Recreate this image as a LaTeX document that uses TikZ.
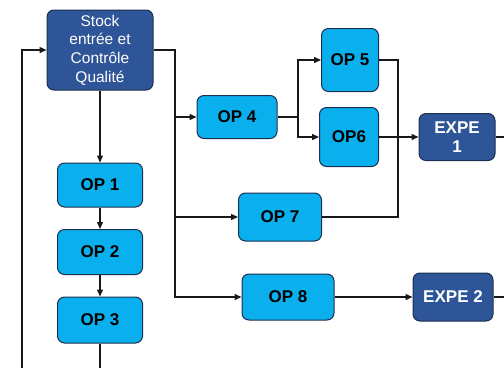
\documentclass[tikz,border=0pt]{standalone}
\usepackage{fontspec}
\setmainfont{Liberation Sans}
\usetikzlibrary{arrows.meta}
\definecolor{opblue}{HTML}{0AB0EE}
\definecolor{darkblue}{HTML}{2E5597}
\definecolor{edgeblue}{HTML}{1B2F4F}
\tikzset{
  op/.style={draw=edgeblue, line width=1pt, fill=opblue, rounded corners=7pt,
    inner sep=0pt, font=\bfseries\fontsize{17}{19}\selectfont, align=center},
  expe/.style={op, fill=darkblue, text=white},
  stock/.style={op, fill=darkblue, text=white,
    font=\fontsize{15.5}{18.7}\selectfont},
  arr/.style={-{Triangle[length=7pt,width=6pt]}},
  wire/.style={line width=1.4pt, draw=black!90}
}
\begin{document}
\begin{tikzpicture}[x=1pt,y=-1pt]
  \useasboundingbox (0,0) rectangle (504,368);
  % boxes
  \node[stock, minimum width=106pt, minimum height=80pt] (stock) at (100,50)
    {Stock\\entrée et\\Contrôle\\Qualité};
  \node[op, minimum width=85pt, minimum height=44pt] (op1) at (100,185) {OP 1};
  \node[op, minimum width=85pt, minimum height=45pt] (op2) at (100,252) {OP 2};
  \node[op, minimum width=85pt, minimum height=46pt] (op3) at (100,320) {OP 3};
  \node[op, minimum width=80pt, minimum height=43pt] (op4) at (237,117) {OP 4};
  \node[op, minimum width=57pt, minimum height=63pt] (op5) at (350,60) {OP 5};
  \node[op, minimum width=59pt, minimum height=59pt] (op6) at (349,137) {OP6};
  \node[op, minimum width=83pt, minimum height=48pt] (op7) at (280,217) {OP 7};
  \node[op, minimum width=92pt, minimum height=46pt] (op8) at (288,297) {OP 8};
  \node[expe, minimum width=76pt, minimum height=47pt] (expe1) at (457,137) {EXPE\\1};
  \node[expe, minimum width=80pt, minimum height=48pt] (expe2) at (453,297) {EXPE 2};
  % free ends and bends
  \coordinate (back) at (22,368);
  \coordinate (down) at (100,368);
  \coordinate (split) at (175,50);
  \coordinate (trunk) at (175,297);
  \coordinate (fork) at (298,117);
  \coordinate (merge) at (398,217);
  \coordinate (out1) at (504,137);
  \coordinate (out2) at (504,297);
  \begin{scope}[wire]
    \draw[arr] (back) |- (stock.west);
    \draw[arr] (stock) -- (op1);
    \draw[arr] (op1) -- (op2);
    \draw[arr] (op2) -- (op3);
    \draw (op3) -- (down);
    \draw[arr] (stock.east) -| (trunk) -- (op8.west);
    \draw[arr] (split) |- (op4.west);
    \draw[arr] (split) |- (op7.west);
    \draw (op4.east) -- (fork);
    \draw[arr] (fork) |- (op5.west);
    \draw[arr] (fork) |- (op6.west);
    \draw (op5.east) -| (merge) -- (op7.east);
    \draw[arr] (op6) -- (expe1);
    \draw (expe1) -- (out1);
    \draw[arr] (op8) -- (expe2);
    \draw (expe2) -- (out2);
  \end{scope}
\end{tikzpicture}
\end{document}
